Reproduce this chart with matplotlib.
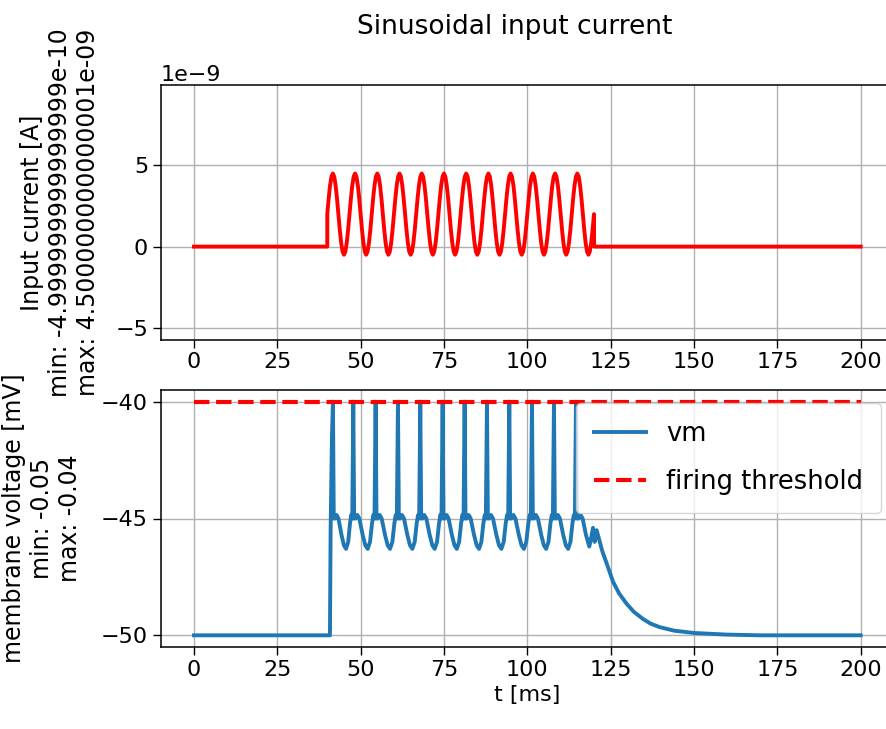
import matplotlib
matplotlib.use('Agg')
import matplotlib.pyplot as plt
import numpy as np

plt.rcParams['font.family'] = ['DejaVu Sans']

# ---------------------------------------------------------
# data
# ---------------------------------------------------------
t_end = 200.0                      # ms

# input current: zero outside [40, 120] ms, 150 Hz sinusoid inside
i_on, i_off = 40.0, 120.0
i_period = 1000.0 / 150.0          # ms
# one period of the current (16 samples), in units of 1e-9 A
i_cycle = [2.0, 2.96, 3.77, 4.31, 4.5, 4.31, 3.77, 2.96,
           2.0, 1.04, 0.23, -0.31, -0.5, -0.31, 0.23, 1.04]
n_cycles = 12

# membrane voltage [mV]
v_th = -40.0
rise_t = [0.0, 40.8, 41.0, 41.4]
rise_vm = [-50.0, -50.0, -45.5, -41.5]
spike_t = [41.7, 47.8, 54.5, 61.2, 67.9, 74.6, 81.2, 87.9, 94.6, 101.4, 108.0, 114.6]
# shape between two spikes, as a fraction of the inter-spike interval
isi_phase = [0.04, 0.1, 0.18, 0.27, 0.42, 0.54, 0.645, 0.75, 0.84, 0.9, 0.95]
isi_vm = [-45.0, -45.0, -44.85, -45.0, -45.7, -46.15, -46.3, -46.0, -45.2, -44.85, -45.0]
tail_t = [114.9, 115.4, 116.0, 116.6, 117.6, 118.6, 119.2, 119.7, 120.2, 120.8,
          122.5, 124.0, 125.7, 127.5, 129.8, 132.0, 134.7, 137.0, 139.7,
          144.0, 150.0, 160.0, 170.0, 200.0]
tail_vm = [-45.0, -45.0, -44.85, -45.0, -45.7, -46.2, -45.8, -45.4, -46.0, -45.5,
           -46.4, -47.0, -47.7, -48.2, -48.65, -49.0, -49.3, -49.5, -49.65,
           -49.8, -49.9, -49.97, -50.0, -50.0]

# ---------------------------------------------------------
# assemble traces
# ---------------------------------------------------------
n_s = len(i_cycle) * n_cycles
cur_t = np.concatenate([[0.0, i_on],
                        i_on + np.arange(n_s) * i_period / len(i_cycle),
                        [i_off, i_off + 0.05, t_end]])
cur_i = np.concatenate([[0.0, 0.0], np.tile(i_cycle, n_cycles),
                        [2.0, 0.0, 0.0]]) * 1e-9

vm_t = list(rise_t)
vm_v = list(rise_vm)
for k, ts in enumerate(spike_t):
    vm_t.append(ts)
    vm_v.append(v_th)
    if k + 1 < len(spike_t):
        isi = spike_t[k + 1] - ts
        vm_t += [ts + p * isi for p in isi_phase]
        vm_v += isi_vm
vm_t += tail_t
vm_v += tail_vm

# ---------------------------------------------------------
# figure
# ---------------------------------------------------------
W, H = 886, 729
fig = plt.figure(figsize=(W / 100, H / 100), dpi=100)

x0, x1 = 160.6, 894.0
ax1 = fig.add_axes([x0 / W, 1 - 340 / H, (x1 - x0) / W, 255 / H])
ax2 = fig.add_axes([x0 / W, 1 - 647 / H, (x1 - x0) / W, 257 / H])

fs = 16
ax1.plot(cur_t, cur_i, color='red', lw=2.8)
ax1.set_ylim(-5.75e-9, 9.95e-9)
ax1.set_ylabel('Input current [A]\nmin: -4.999999999999999e-10\nmax: 4.500000000000001e-09',
               fontsize=fs + 1)
ax1.yaxis.set_label_coords((100 - x0) / (x1 - x0), 0.5)
ax1.yaxis.get_offset_text().set_fontsize(fs)

ax2.plot(vm_t, vm_v, color='C0', lw=2.8, label='vm')
ax2.plot([0.0, t_end], [v_th, v_th], color='red', ls='--', lw=3, label='firing threshold')
ax2.set_yticks([-50, -45, -40])
ax2.set_xlabel('t [ms]', fontsize=fs)
ax2.set_ylabel('membrane voltage [mV]\nmin: -0.05\nmax: -0.04', fontsize=fs + 1)
ax2.yaxis.set_label_coords((82 - x0) / (x1 - x0), 0.5)
ax2.legend(loc='upper right', fontsize=18.5, labelspacing=0.85, borderpad=0.7)

for ax in (ax1, ax2):
    ax.grid(True, color='#b0b0b0', lw=1.0)
    ax.set_xticks(np.arange(0, 201, 25))
    ax.tick_params(labelsize=fs, length=5.5, width=1.0)
    for s in ax.spines.values():
        s.set_linewidth(1.1)

fig.text(515 / W, 1 - 27 / H, 'Sinusoidal input current', ha='center', va='center', fontsize=19)

fig.savefig('out.png', dpi=100)
